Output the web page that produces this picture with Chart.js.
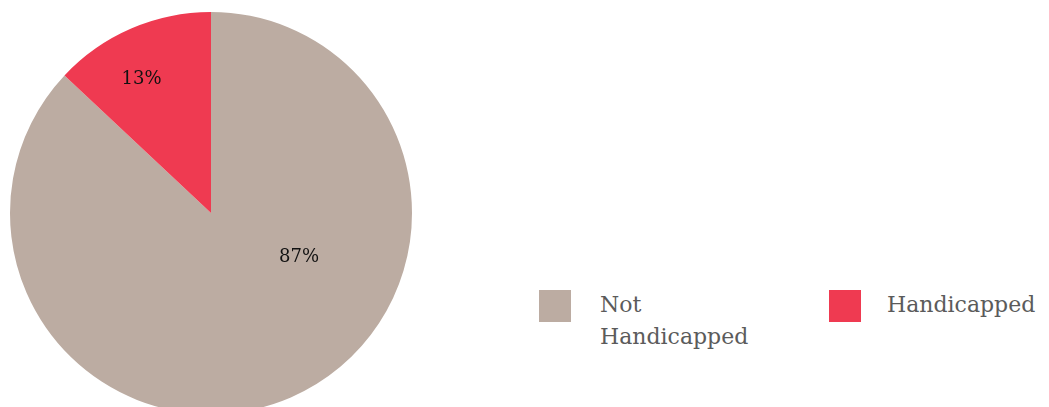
<!DOCTYPE html>
<html>
<head>
<meta charset="utf-8">
<script src="https://cdn.jsdelivr.net/npm/chart.js@4"></script>
<style>
  html, body { margin: 0; padding: 0; background: #fff; overflow: hidden; }
  #wrap { position: relative; width: 1049px; height: 407px; overflow: hidden; }
  #pieBox { position: absolute; left: 0; top: 0; width: 424px; height: 428px; }
  #legend { position: absolute; left: 539px; top: 290px; display: flex; font-family: "DejaVu Serif", serif; font-size: 22px; color: #5b5b5b; }
  .item { display: flex; align-items: flex-start; }
  .box { width: 32px; height: 32px; flex: none; }
  .txt { line-height: 32px; margin-top: -1px; }
</style>
</head>
<body>
<div id="wrap">
  <div id="pieBox"><canvas id="pie"></canvas></div>
  <div id="legend"></div>
</div>
<script>
// data
const categories = ['Not Handicapped', 'Handicapped'];
const shares = [87, 13];
const sliceColors = ['#bcaca2', '#ef3a51'];

// label placement (fraction of radius, angle shift in degrees) per slice
const labelPlacement = [
  { r: 0.49, shift: -40 },
  { r: 0.75, shift: -4 }
];

const sliceLabels = {
  id: 'sliceLabels',
  afterDatasetsDraw(chart) {
    const c = chart.ctx;
    const meta = chart.getDatasetMeta(0);
    c.save();
    c.font = '18px "DejaVu Serif", serif';
    c.fillStyle = '#111';
    c.textAlign = 'center';
    c.textBaseline = 'middle';
    meta.data.forEach((arc, i) => {
      const p = arc.getProps(['x', 'y', 'startAngle', 'endAngle', 'outerRadius'], true);
      const mid = (p.startAngle + p.endAngle) / 2 + labelPlacement[i].shift * Math.PI / 180;
      const d = p.outerRadius * labelPlacement[i].r;
      c.fillText(shares[i] + '%', p.x + Math.cos(mid) * d, p.y + Math.sin(mid) * d);
    });
    c.restore();
  }
};

const chart = new Chart(document.getElementById('pie'), {
  type: 'pie',
  data: {
    labels: categories,
    datasets: [{
      data: shares,
      backgroundColor: sliceColors,
      borderWidth: 0
    }]
  },
  options: {
    responsive: true,
    maintainAspectRatio: false,
    animation: false,
    layout: { padding: { left: 10, top: 12, right: 12, bottom: 14 } },
    plugins: {
      legend: { display: false },
      tooltip: { enabled: false }
    }
  },
  plugins: [sliceLabels]
});

// html legend built from chart data
const legendEl = document.getElementById('legend');
const widths = [290, 210];
const gaps = [29, 26];
chart.options.plugins.legend.labels.generateLabels(chart).forEach((it, i) => {
  const item = document.createElement('div');
  item.className = 'item';
  item.style.width = widths[i] + 'px';
  const box = document.createElement('div');
  box.className = 'box';
  box.style.background = it.fillStyle;
  const txt = document.createElement('div');
  txt.className = 'txt';
  txt.style.marginLeft = gaps[i] + 'px';
  txt.style.width = i === 0 ? '180px' : 'auto';
  txt.textContent = it.text;
  item.appendChild(box);
  item.appendChild(txt);
  legendEl.appendChild(item);
});
</script>
</body>
</html>
